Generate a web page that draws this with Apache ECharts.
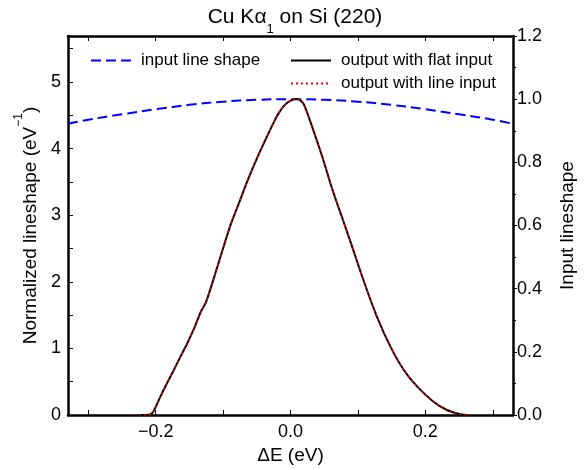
<!DOCTYPE html>
<html>
<head>
<meta charset="utf-8">
<script src="https://cdn.jsdelivr.net/npm/echarts@6/dist/echarts.min.js"></script>
<style>html,body{margin:0;padding:0;background:#fff}#c{width:587px;height:470px}</style>
</head>
<body>
<div id="c"></div>
<script>
// Data
const xTickValues = [-0.3, -0.2, -0.1, 0, 0.1, 0.2, 0.3];
const xLabelValues = [-0.2, 0, 0.2];
const leftLabelValues = [0, 1, 2, 3, 4, 5];
const leftTickValues = [0, 0.5, 1, 1.5, 2, 2.5, 3, 3.5, 4, 4.5, 5, 5.5];

const xInput = [-0.33, -0.3, -0.25, -0.2, -0.15, -0.1, -0.05, 0, 0.05, 0.1, 0.15, 0.2, 0.25, 0.3, 0.33];
const yInput = [0.922, 0.935, 0.952, 0.968, 0.982, 0.992, 0.998, 1.0, 0.998, 0.992, 0.982, 0.968, 0.952, 0.935, 0.922];

const xFlat = [-0.225, -0.21, -0.205, -0.2, -0.193, -0.183, -0.173, -0.163, -0.153, -0.143, -0.133, -0.126, -0.116, -0.101, -0.089, -0.075, -0.064, -0.049, -0.04, -0.025, -0.017, -0.008, 0.001, 0.009, 0.015, 0.02, 0.032, 0.047, 0.062, 0.077, 0.089, 0.109, 0.128, 0.148, 0.168, 0.188, 0.212, 0.232, 0.249, 0.262];
const yFlat = [0, 0.005, 0.03, 0.12, 0.275, 0.48, 0.676, 0.88, 1.077, 1.3, 1.55, 1.68, 1.98, 2.47, 2.85, 3.22, 3.51, 3.87, 4.07, 4.39, 4.54, 4.66, 4.725, 4.745, 4.72, 4.66, 4.33, 3.88, 3.39, 2.95, 2.60, 2.00, 1.48, 1.03, 0.676, 0.425, 0.2, 0.075, 0.02, 0];

const xLine = xFlat.slice();
const yLine = [0, 0.005, 0.03, 0.12, 0.275, 0.48, 0.676, 0.88, 1.077, 1.3, 1.55, 1.68, 1.98, 2.47, 2.85, 3.22, 3.51, 3.87, 4.07, 4.39, 4.54, 4.66, 4.725, 4.745, 4.72, 4.66, 4.33, 3.88, 3.39, 2.95, 2.60, 2.00, 1.48, 1.03, 0.676, 0.425, 0.2, 0.075, 0.02, 0];

const FONT = '"Liberation Sans", Arial, sans-serif';
const pair = (xs, ys) => xs.map((x, i) => [x, ys[i]]);
const fmtX = v => (v < 0 ? '\u2212' : '') + Math.abs(v).toFixed(1);

const chart = echarts.init(document.getElementById('c'), null, {renderer: 'canvas'});
const axisLine = {show: true, onZero: false, lineStyle: {color: '#000', width: 2.5}};
const legendText = {fontSize: 17, fontFamily: FONT, color: '#000', padding: [0, 0, 0, 5]};

chart.setOption({
  animation: false,
  backgroundColor: '#fff',
  textStyle: {fontFamily: FONT},
  title: {
    text: '{m|Cu K\u03b1}{s|1}{m| on Si (220)}',
    left: 290, top: 2, textAlign: 'center',
    textStyle: {
      fontWeight: 'normal',
      rich: {
        m: {fontSize: 21, fontFamily: FONT, color: '#000', fontWeight: 'normal'},
        s: {fontSize: 13, fontFamily: FONT, color: '#000', fontWeight: 'normal', verticalAlign: 'bottom', padding: [0, 0, -8, 0]}
      }
    }
  },
  legend: [
    {
      left: 85, top: 47, itemWidth: 40, itemHeight: 14, itemGap: 10,
      data: ['input line shape'],
      itemStyle: {opacity: 0},
      textStyle: legendText
    },
    {
      left: 285, top: 47, orient: 'vertical', itemWidth: 40, itemHeight: 14, itemGap: 6,
      data: ['output with flat input', 'output with line input'],
      itemStyle: {opacity: 0},
      textStyle: legendText
    }
  ],
  grid: {left: 68, right: 74, top: 36, bottom: 55, containLabel: false},
  xAxis: [
    {
      type: 'value', min: -0.33, max: 0.33, position: 'bottom',
      name: '\u0394E (eV)', nameLocation: 'middle', nameGap: 30,
      nameTextStyle: {fontSize: 19, fontFamily: FONT, color: '#000'},
      axisLine: axisLine,
      axisTick: {show: true, inside: true, length: 5, customValues: xTickValues, lineStyle: {color: '#000', width: 1}},
      axisLabel: {customValues: xLabelValues, formatter: fmtX, fontSize: 18, fontFamily: FONT, color: '#000', margin: 8},
      splitLine: {show: false}
    },
    {
      type: 'value', min: -0.33, max: 0.33, position: 'top',
      axisLine: axisLine,
      axisTick: {show: true, inside: true, length: 5, customValues: xTickValues, lineStyle: {color: '#000', width: 1}},
      axisLabel: {show: false},
      splitLine: {show: false}
    }
  ],
  yAxis: [
    {
      type: 'value', min: 0, max: 5.69, position: 'left',
      name: '{m|Normalized lineshape (eV}{s|\u22121}{m|)}',
      nameLocation: 'middle', nameGap: 28,
      nameTextStyle: {
        rich: {
          m: {fontSize: 19, fontFamily: FONT, color: '#000'},
          s: {fontSize: 12, fontFamily: FONT, color: '#000', verticalAlign: 'top', padding: [-8, 0, 0, 0]}
        }
      },
      axisLine: axisLine,
      axisTick: {show: true, inside: true, length: 5, customValues: leftTickValues, lineStyle: {color: '#000', width: 1}},
      axisLabel: {customValues: leftLabelValues, fontSize: 18, fontFamily: FONT, color: '#000', margin: 7},
      splitLine: {show: false}
    },
    {
      type: 'value', min: 0, max: 1.2, interval: 0.2, position: 'right',
      name: 'Input lineshape', nameLocation: 'middle', nameGap: 45,
      nameTextStyle: {fontSize: 19, fontFamily: FONT, color: '#000'},
      axisLine: axisLine,
      axisTick: {show: true, inside: false, length: 4, lineStyle: {color: '#000', width: 1}},
      minorTick: {show: true, splitNumber: 2, length: 3, lineStyle: {color: '#000', width: 1}},
      axisLabel: {formatter: v => v.toFixed(1), fontSize: 18, fontFamily: FONT, color: '#000', margin: 4},
      splitLine: {show: false}
    }
  ],
  series: [
    {
      name: 'input line shape', type: 'line', yAxisIndex: 1, xAxisIndex: 0,
      data: pair(xInput, yInput), symbol: 'none', smooth: 0.4,
      lineStyle: {color: '#0000ff', width: 2, type: [10, 5]},
      itemStyle: {color: '#0000ff'}
    },
    {
      name: 'output with flat input', type: 'line', yAxisIndex: 0, xAxisIndex: 0,
      data: pair(xFlat, yFlat), symbol: 'none', smooth: 0.3,
      lineStyle: {color: '#000', width: 2},
      itemStyle: {color: '#000'}
    },
    {
      name: 'output with line input', type: 'line', yAxisIndex: 0, xAxisIndex: 0,
      data: pair(xLine, yLine), symbol: 'none', smooth: 0.3,
      lineStyle: {color: '#ff0000', width: 1.5, type: [2, 3]},
      itemStyle: {color: '#ff0000'}
    }
  ]
});
</script>
</body>
</html>
